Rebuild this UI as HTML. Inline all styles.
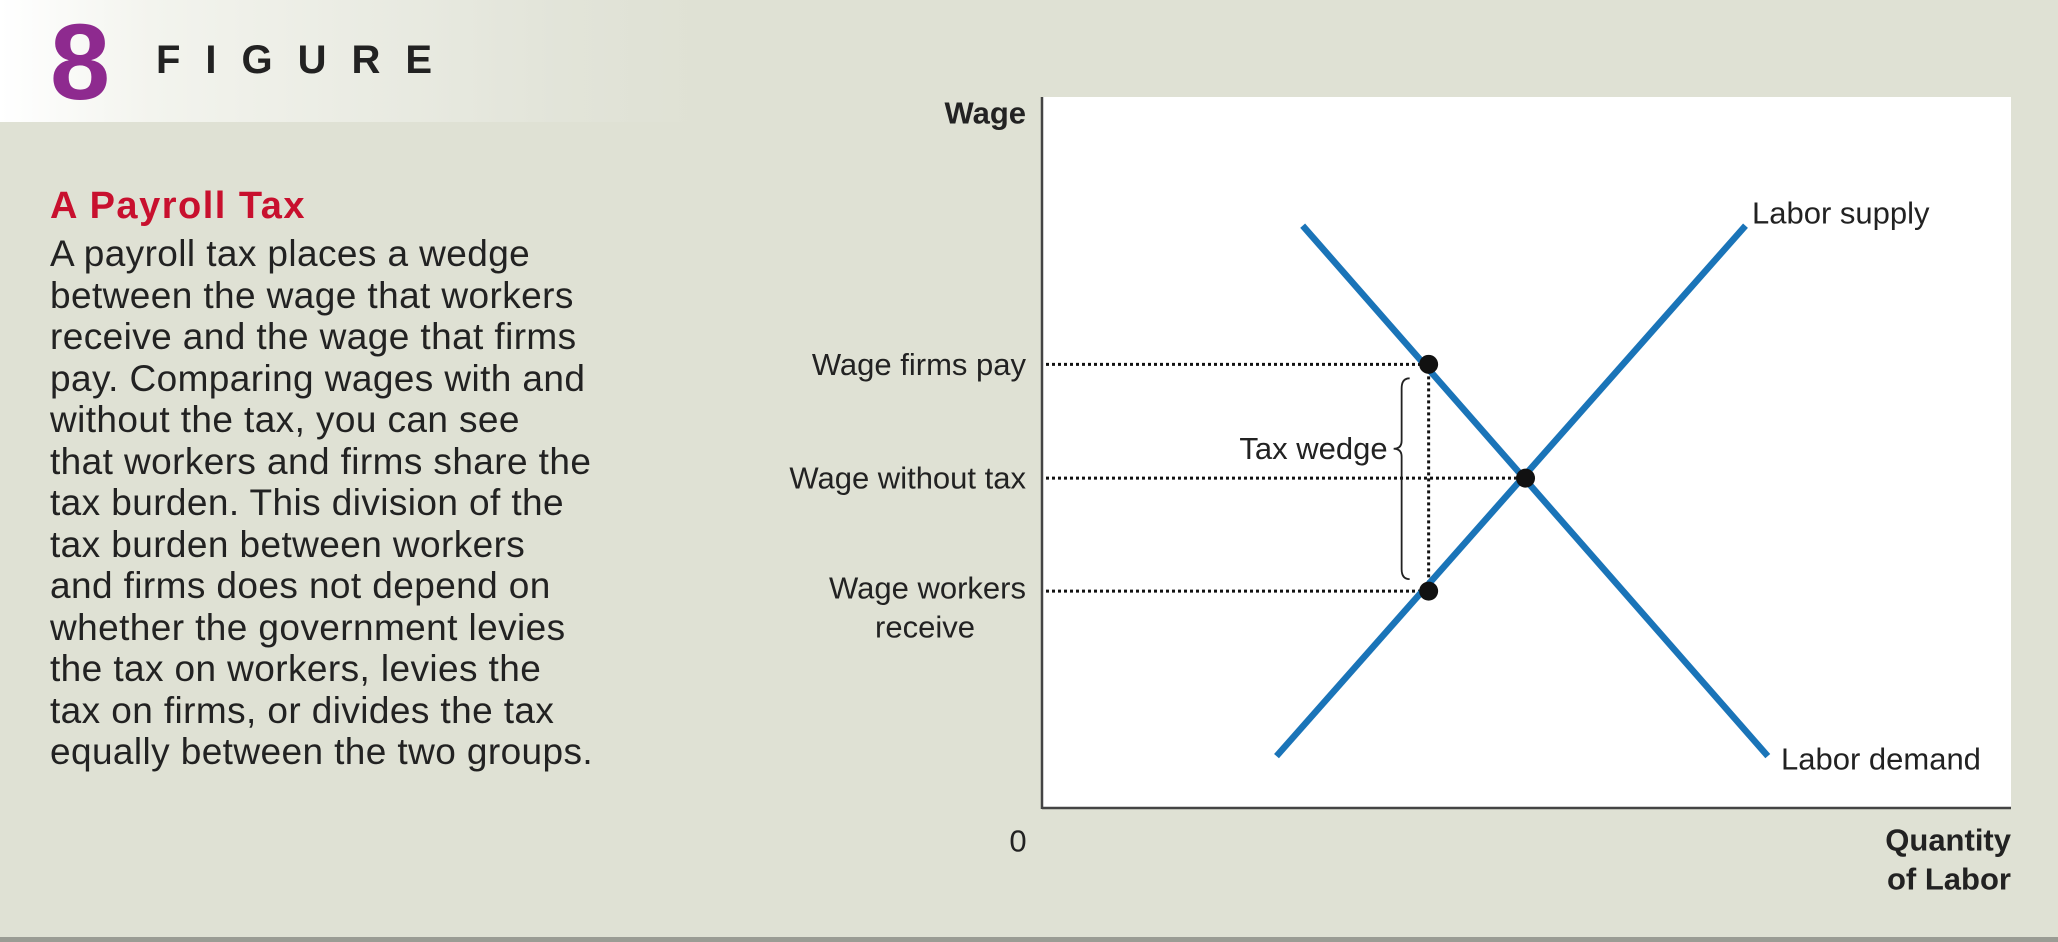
<!DOCTYPE html>
<html><head><meta charset="utf-8">
<style>
html,body{margin:0;padding:0;}
body{width:2058px;height:942px;background:#dfe1d4;position:relative;overflow:hidden;font-family:"Liberation Sans",sans-serif;}
#hdr{position:absolute;left:0;top:0;width:2058px;height:122px;background:linear-gradient(90deg,#ffffff 0px,#f3f4ee 150px,#e2e4d9 560px,#dfe1d4 700px);}
#num{position:absolute;left:50px;top:10px;font-size:108px;font-weight:bold;color:#8e2a8f;line-height:104px;}
#fig{position:absolute;left:156px;top:40px;font-size:40px;font-weight:bold;letter-spacing:25px;color:#222;line-height:40px;}
#title{position:absolute;left:50px;top:186px;font-size:38px;letter-spacing:1.5px;font-weight:bold;color:#c8102e;line-height:40px;}
#body{position:absolute;left:50px;top:233px;font-size:37px;letter-spacing:0.4px;color:#222;line-height:41.5px;white-space:pre;}
svg{position:absolute;left:0;top:0;}
#bot{position:absolute;left:0;top:937px;width:2058px;height:5px;background:#9a9c94;}
</style></head><body>
<div id="hdr"></div>
<div id="num">8</div>
<div id="fig">FIGURE</div>
<div id="title">A Payroll Tax</div>
<div id="body">A payroll tax places a wedge
between the wage that workers
receive and the wage that firms
pay. Comparing wages with and
without the tax, you can see
that workers and firms share the
tax burden. This division of the
tax burden between workers
and firms does not depend on
whether the government levies
the tax on workers, levies the
tax on firms, or divides the tax
equally between the two groups.</div>
<svg id="chart" width="2058" height="942"></svg>
<div id="bot"></div>
<script>
// data (arbitrary units 0..100)
const demandQ = [26.9, 74.9];
const demandW = [81.9, 7.3];
const supplyQ = [24.2, 72.6];
const supplyW = [7.3, 81.9];
const pointQ = [39.9, 49.9, 39.9];
const pointW = [62.4, 46.4, 30.5];
const wageLabels = ["Wage firms pay", "Wage without tax", "Wage workers"];

const X0=1042,X1=2011,Y0=808,Y1=97;
const sx=q=>X0+(X1-X0)*q/100;
const sy=w=>Y0-(Y0-Y1)*w/100;
const NS="http://www.w3.org/2000/svg";
const svg=document.getElementById('chart');
function mk(tag,attrs,name){const e=document.createElementNS(NS,tag);for(const k in attrs)e.setAttribute(k,attrs[k]);


svg.appendChild(e);return e;}
function txt(s,x,y,anchor,name,bold){const t=mk('text',{x:x,y:y,'text-anchor':anchor,'dominant-baseline':'central','font-family':'Liberation Sans, sans-serif','font-size':31,'font-weight':bold?'bold':'normal',fill:'#222'},name);t.textContent=s;return t;}

mk('rect',{x:X0,y:Y1,width:X1-X0,height:Y0-Y1,fill:'#fff'},'plot-area');
mk('line',{x1:X0,y1:Y1,x2:X0,y2:Y0+1,stroke:'#444','stroke-width':2.5},'y-axis');
mk('line',{x1:X0,y1:Y0,x2:X1,y2:Y0,stroke:'#444','stroke-width':2.5},'x-axis');

for(let i=0;i<3;i++){
  mk('line',{x1:X0+4,y1:sy(pointW[i]),x2:sx(pointQ[i]),y2:sy(pointW[i]),stroke:'#111','stroke-width':3,'stroke-dasharray':'3 3'},'guide-'+i);
}
mk('line',{x1:sx(pointQ[0]),y1:sy(pointW[0]),x2:sx(pointQ[2]),y2:sy(pointW[2]),stroke:'#111','stroke-width':3,'stroke-dasharray':'3 3'},'vertical-guide');

mk('line',{x1:sx(demandQ[0]),y1:sy(demandW[0]),x2:sx(demandQ[1]),y2:sy(demandW[1]),stroke:'#1a74b8','stroke-width':6.5},'labor-demand-line');
mk('line',{x1:sx(supplyQ[0]),y1:sy(supplyW[0]),x2:sx(supplyQ[1]),y2:sy(supplyW[1]),stroke:'#1a74b8','stroke-width':6.5},'labor-supply-line');

for(let i=0;i<3;i++){
  mk('circle',{cx:sx(pointQ[i]),cy:sy(pointW[i]),r:9.5,fill:'#111'},'point-'+i);
}

const bx=sx(pointQ[0])-27, bt=sy(pointW[0])+14, bb=sy(pointW[2])-12, bm=(bt+bb)/2-30;
mk('path',{d:`M${bx+8},${bt} Q${bx},${bt} ${bx},${bt+10} L${bx},${bm-8} Q${bx},${bm} ${bx-8},${bm} Q${bx},${bm} ${bx},${bm+8} L${bx},${bb-10} Q${bx},${bb} ${bx+8},${bb}`,fill:'none',stroke:'#222','stroke-width':1.8},'tax-wedge-brace');
txt('Tax wedge',bx-14,bm,'end','tax-wedge-label');

for(let i=0;i<3;i++) txt(wageLabels[i],1026,sy(pointW[i])-(i==2?3:0),'end','wage-label-'+i);
txt('receive',925,627,'middle','wage-label-receive');
txt('Wage',1026,113,'end','y-axis-title',true);
txt('0',1018,841,'middle','origin-label');
txt('Quantity',2011,840,'end','x-axis-title',true);
txt('of Labor',2011,879,'end','x-axis-title-2',true);
txt('Labor supply',1752,213,'start','labor-supply-label');
txt('Labor demand',1781,759,'start','labor-demand-label');
</script>
</body></html>
